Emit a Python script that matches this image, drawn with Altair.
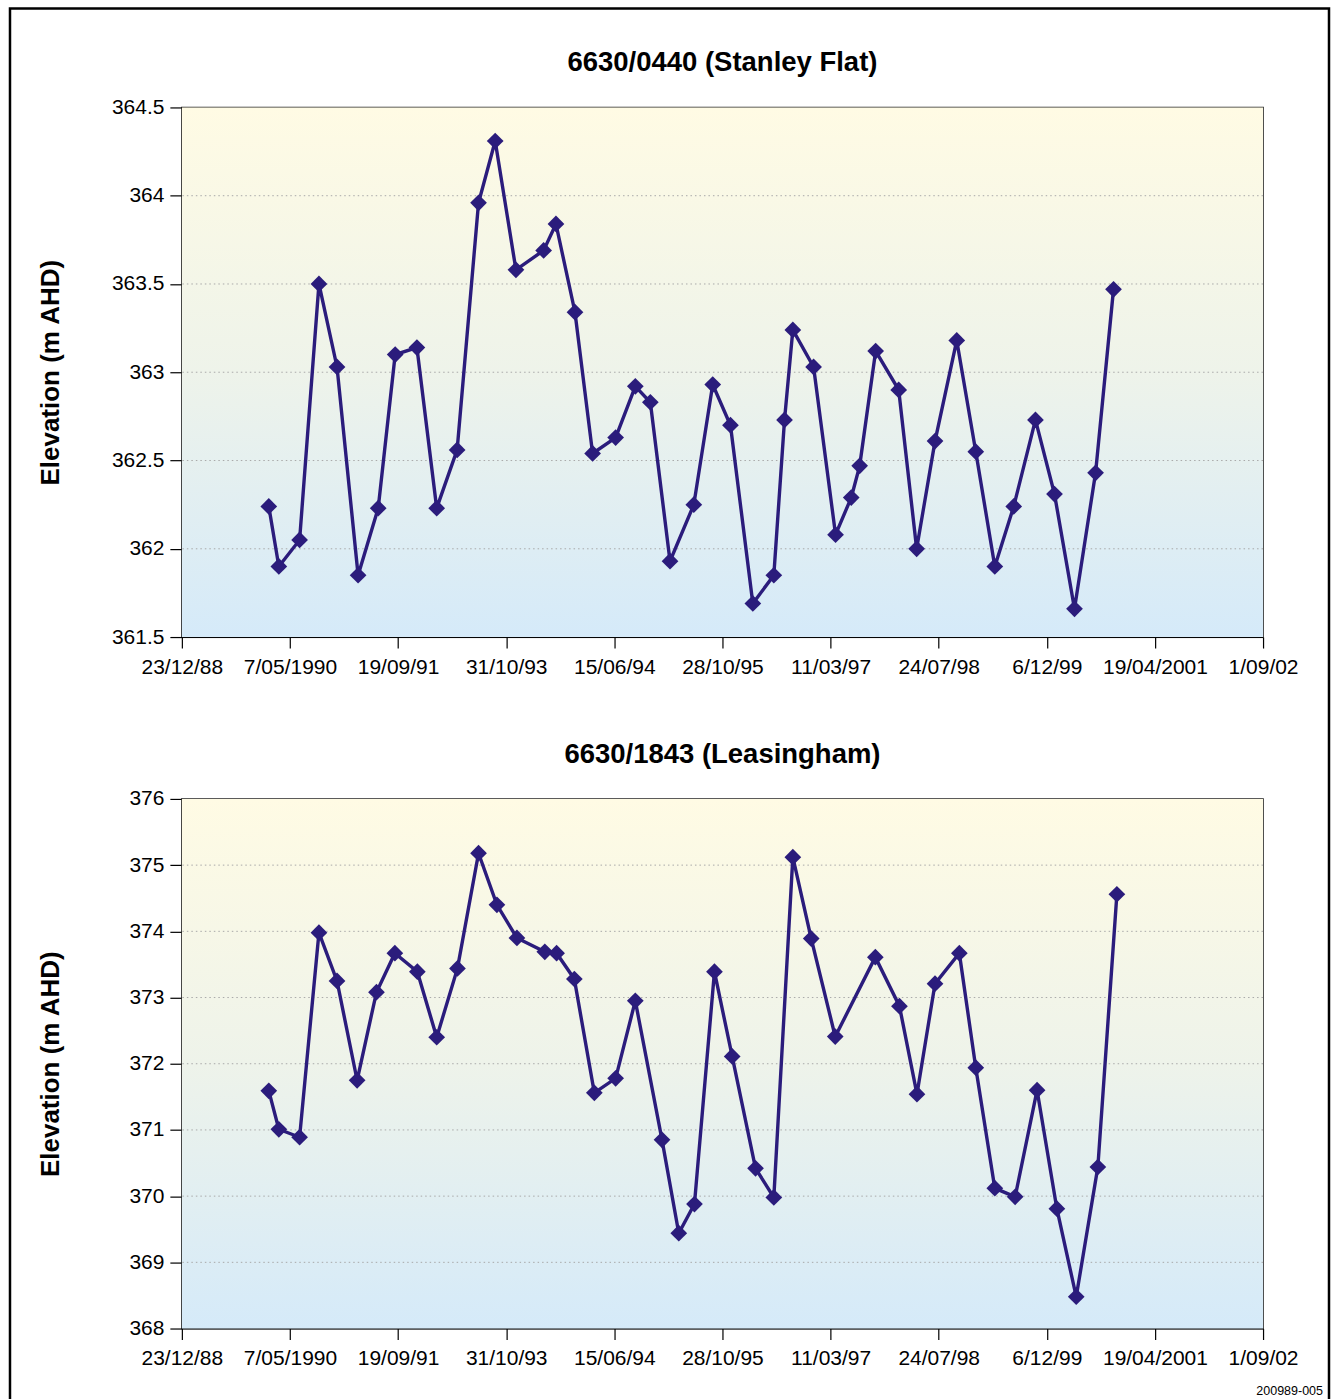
import altair as alt
import pandas as pd

# Date-axis tick labels (equally spaced positions 0..10)
tick_labels = ["23/12/88", "7/05/1990", "19/09/91", "31/10/93", "15/06/94",
               "28/10/95", "11/03/97", "24/07/98", "6/12/99", "19/04/2001", "1/09/02"]

# 6630/0440 (Stanley Flat): position along the date axis and water level (m AHD)
stanley_t = [0.804, 0.897, 1.089, 1.268, 1.435, 1.630, 1.816, 1.973, 2.174, 2.357,
             2.546, 2.744, 2.898, 3.090, 3.346, 3.460, 3.636, 3.799, 4.012, 4.194,
             4.333, 4.515, 4.735, 4.910, 5.074, 5.281, 5.475, 5.574, 5.651, 5.843,
             6.046, 6.191, 6.269, 6.417, 6.630, 6.796, 6.966, 7.167, 7.343, 7.519,
             7.694, 7.895, 8.071, 8.256, 8.451, 8.617]
stanley_level = [362.24, 361.90, 362.05, 363.50, 363.03, 361.85, 362.23, 363.10, 363.14, 362.23,
                 362.56, 363.96, 364.31, 363.58, 363.69, 363.84, 363.34, 362.54, 362.63, 362.92,
                 362.83, 361.93, 362.25, 362.93, 362.70, 361.69, 361.85, 362.73, 363.24, 363.03,
                 362.08, 362.29, 362.47, 363.12, 362.90, 362.00, 362.61, 363.18, 362.55, 361.90,
                 362.24, 362.73, 362.31, 361.66, 362.43, 363.47]
stanley_ticks = [361.5, 362, 362.5, 363, 363.5, 364, 364.5]

# 6630/1843 (Leasingham)
leasingham_t = [0.804, 0.897, 1.089, 1.268, 1.435, 1.621, 1.800, 1.970, 2.178, 2.357,
                2.549, 2.744, 2.914, 3.099, 3.357, 3.466, 3.630, 3.815, 4.012, 4.194,
                4.441, 4.596, 4.741, 4.926, 5.090, 5.306, 5.475, 5.651, 5.821, 6.043,
                6.414, 6.637, 6.799, 6.966, 7.191, 7.343, 7.519, 7.707, 7.910, 8.093,
                8.272, 8.472, 8.648]
leasingham_level = [371.59, 371.01, 370.89, 373.98, 373.25, 371.75, 373.08, 373.67, 373.39, 372.40,
                    373.44, 375.18, 374.40, 373.90, 373.69, 373.67, 373.28, 371.56, 371.78, 372.95,
                    370.85, 369.44, 369.88, 373.39, 372.11, 370.42, 369.98, 375.12, 373.89, 372.41,
                    373.61, 372.87, 371.54, 373.21, 373.67, 371.94, 370.12, 369.99, 371.60, 369.81,
                    368.48, 370.44, 374.56]
leasingham_ticks = [368, 369, 370, 371, 372, 373, 374, 375, 376]

W, H = 1082, 530
FONT = "Liberation Sans"
LINE = "#2b1c7c"

label_expr = "[" + ",".join("'%s'" % s for s in tick_labels) + "][datum.value]"

backdrop = alt.LinearGradient(
    gradient="linear",
    stops=[alt.GradientStop(color="#fffbe4", offset=0),
           alt.GradientStop(color="#eef3ea", offset=0.5),
           alt.GradientStop(color="#d5eaf9", offset=1)],
    x1=0, x2=0, y1=0, y2=1,
)


def panel(t, level, ticks, title, outer_frame=False, note=False):
    df = pd.DataFrame({"t": t, "level": level})
    x = alt.X("t:Q",
              scale=alt.Scale(domain=[0, 10], nice=False, zero=False),
              axis=alt.Axis(values=list(range(len(tick_labels))), labelExpr=label_expr,
                            title=None, grid=False, tickSize=11, labelPadding=8,
                            labelFlush=False, labelOverlap=False))
    y = alt.Y("level:Q",
              scale=alt.Scale(domain=[ticks[0], ticks[-1]], nice=False, zero=False),
              axis=alt.Axis(values=ticks, format=".1~f", title="Elevation (m AHD)",
                            grid=False, tickSize=12, labelPadding=6,
                            titleX=-131, titleY=H / 2, titleAngle=270,
                            titleAlign="center", titleBaseline="middle"))

    one = pd.DataFrame({"k": [0]})
    bg = alt.Chart(one).mark_rect(fill=backdrop, strokeWidth=0).encode(
        x=alt.value(0), x2=alt.value(W), y=alt.value(0), y2=alt.value(H))
    grid = alt.Chart(pd.DataFrame({"level": ticks[1:-1]})).mark_rule(
        color="#a9a9a9", strokeWidth=1, strokeDash=[1.5, 3]).encode(y="level:Q")
    line = alt.Chart(df).mark_line(color=LINE, strokeWidth=3.4).encode(x=x, y=y)
    pts = alt.Chart(df).mark_point(shape="diamond", filled=True, size=280,
                                   color=LINE, opacity=1).encode(x="t:Q", y="level:Q")
    head = alt.Chart(one).mark_text(font=FONT, fontSize=27.5, fontWeight="bold",
                                    align="center", baseline="alphabetic",
                                    color="black").encode(
        x=alt.value(W / 2), y=alt.value(-36), text=alt.value(title))
    layers = [bg, grid, line, pts, head]
    if outer_frame:
        layers.append(alt.Chart(one).mark_rect(fillOpacity=0, stroke="black",
                                               strokeWidth=2.5).encode(
            x=alt.value(-172), x2=alt.value(1148), y=alt.value(-99), y2=alt.value(1298)))
    if note:
        layers.append(alt.Chart(one).mark_text(font=FONT, fontSize=12.5, align="right",
                                               baseline="alphabetic", color="black").encode(
            x=alt.value(1142), y=alt.value(597), text=alt.value("200989-005")))
    return alt.layer(*layers).properties(width=W, height=H)


top = panel(stanley_t, stanley_level, stanley_ticks, "6630/0440 (Stanley Flat)", outer_frame=True)
bottom = panel(leasingham_t, leasingham_level, leasingham_ticks, "6630/1843 (Leasingham)", note=True)

chart = alt.vconcat(top, bottom, spacing=162, bounds="flush").properties(
    padding={"left": 7, "top": 5, "right": 0, "bottom": 0},
    background="white",
).configure_view(
    stroke="#262626", strokeWidth=1.6
).configure_axis(
    domainColor="black", domainWidth=1, tickColor="black", tickWidth=1.2,
    labelColor="black", labelFont=FONT, labelFontSize=21,
    titleColor="black", titleFont=FONT, titleFontSize=26, titleFontWeight="bold",
)

chart.save("out.html", embed_options={"renderer": "svg", "actions": False})
